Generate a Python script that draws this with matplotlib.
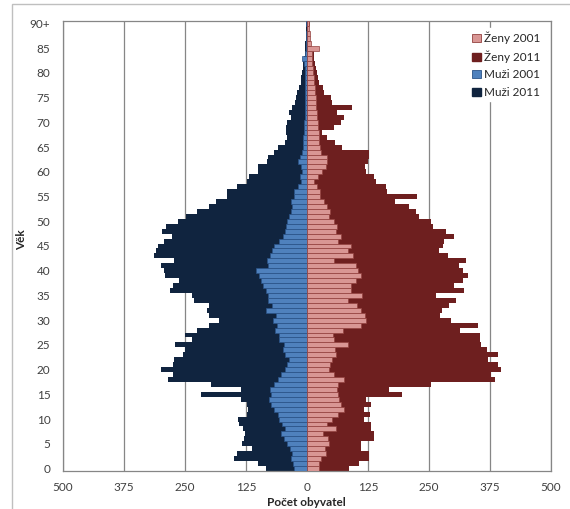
import matplotlib
matplotlib.use("Agg")
import matplotlib.pyplot as plt
import numpy as np
from matplotlib.patches import Rectangle, Patch

plt.rcParams['font.family'] = ['Lato', 'DejaVu Sans']

# age groups 0 .. 90+
vek = [str(a) for a in range(90)] + ['90+']

muzi_2011 = [84, 100, 150, 143, 113, 134, 130, 128, 131, 139,
             141, 123, 121, 123, 135, 217, 135, 197, 285, 275,
             300, 275, 272, 255, 250, 270, 235, 250, 225, 200,
             180, 200, 205, 200, 232, 235, 280, 275, 262, 290,
             293, 300, 272, 313, 310, 306, 293, 276, 298, 288,
             265, 248, 225, 200, 187, 164, 164, 143, 122, 118,
             101, 100, 81, 80, 67, 60, 45, 40, 43, 43,
             40, 33, 37, 30, 25, 23, 20, 16, 12, 12,
             10, 9, 8, 6, 5, 4, 4, 3, 2, 2, 3]

muzi_2001 = [27, 28, 32, 30, 35, 40, 47, 54, 45, 52,
             58, 60, 67, 74, 77, 74, 76, 67, 60, 54,
             45, 40, 36, 45, 50, 48, 58, 58, 66, 62,
             70, 64, 84, 72, 80, 80, 84, 90, 94, 98,
             104, 80, 82, 76, 72, 67, 57, 50, 46, 43,
             40, 37, 33, 30, 33, 26, 26, 19, 12, 15,
             10, 13, 19, 14, 10, 8, 9, 8, 7, 6,
             6, 5, 5, 5, 5, 5, 4, 4, 4, 4,
             5, 5, 6, 10, 4, 3, 3, 2, 2, 1, 2]

zeny_2011 = [86, 107, 128, 128, 110, 111, 137, 138, 131, 132,
             116, 130, 116, 131, 121, 194, 169, 255, 385, 377,
             397, 391, 371, 391, 368, 357, 355, 354, 314, 350,
             295, 273, 276, 290, 305, 264, 322, 302, 320, 329,
             320, 312, 326, 288, 270, 278, 281, 301, 285, 258,
             255, 230, 223, 210, 180, 225, 164, 162, 141, 137,
             121, 119, 124, 128, 128, 72, 58, 42, 30, 55,
             70, 75, 62, 92, 52, 50, 35, 32, 25, 22,
             20, 18, 16, 15, 14, 9, 6, 5, 5, 4, 6]

zeny_2001 = [25, 25, 29, 39, 36, 46, 44, 33, 59, 40,
             52, 63, 76, 70, 66, 64, 62, 64, 76, 56,
             46, 48, 52, 60, 58, 83, 56, 53, 74, 110,
             121, 118, 110, 103, 84, 112, 90, 90, 100, 110,
             105, 100, 56, 95, 85, 90, 63, 70, 59, 62,
             56, 46, 48, 42, 35, 27, 26, 20, 15, 22,
             30, 39, 42, 40, 28, 26, 25, 25, 24, 22,
             22, 20, 20, 19, 18, 18, 17, 16, 15, 14,
             13, 12, 11, 10, 10, 25, 8, 7, 6, 5, 4]

x_ticks = [-500, -375, -250, -125, 0, 125, 250, 375, 500]

c_m11 = '#10243f'
c_m01 = '#4f81bd'
c_m01_edge = '#2a5388'
c_z11 = '#6e1f1f'
c_z01 = '#d99694'
c_z01_edge = '#93413f'
grid_c = '#868686'
text_c = '#404040'

fig = plt.figure(figsize=(5.7, 5.09), dpi=100)
ax = fig.add_axes([63/570, 1 - 471/509, (551 - 63)/570, 450/509])

y = np.arange(len(vek))
ax.barh(y, -np.array(muzi_2011), height=1.0, color=c_m11, lw=0, zorder=2)
ax.barh(y, -np.array(muzi_2001), height=1.0, color=c_m01,
        edgecolor=c_m01_edge, lw=0.5, zorder=3)
ax.barh(y, zeny_2011, height=1.0, color=c_z11, lw=0, zorder=2)
ax.barh(y, zeny_2001, height=1.0, color=c_z01,
        edgecolor=c_z01_edge, lw=0.5, zorder=3)

ax.set_xlim(-500, 500)
ax.set_ylim(-0.5, len(vek) - 0.5)
ax.set_xticks(x_ticks)
ax.set_xticklabels([str(abs(t)) for t in x_ticks])
ax.set_yticks(y[::5])
ax.set_yticklabels(vek[::5])
ax.tick_params(axis='both', length=0, labelsize=8.5, colors=text_c)
ax.tick_params(axis='y', pad=9)
ax.tick_params(axis='x', pad=8)

ax.set_axisbelow(True)
ax.xaxis.grid(True, color=grid_c, lw=0.9)
for s in ax.spines.values():
    s.set_color(grid_c)
    s.set_linewidth(0.9)

fig.text(22/570, 1 - 240/509, 'Věk', rotation=90, fontsize=8.5,
         fontweight='bold', color='#262626', ha='center', va='center')
fig.text(306/570, 1 - 503/509, 'Počet obyvatel', fontsize=8.5,
         fontweight='bold', color='#262626', ha='center', va='center')

handles = [Patch(facecolor=c_z01, edgecolor=c_z01_edge, lw=0.6, label='Ženy 2001'),
           Patch(facecolor=c_z11, edgecolor=c_z11, label='Ženy 2011'),
           Patch(facecolor=c_m01, edgecolor=c_m01_edge, lw=0.6, label='Muži 2001'),
           Patch(facecolor=c_m11, edgecolor=c_m11, label='Muži 2011')]
leg = ax.legend(handles=handles, loc='upper right',
                bbox_to_anchor=(550/570, 1 - 22/509), bbox_transform=fig.transFigure,
                fontsize=8.5, handlelength=0.7, handleheight=0.7,
                handletextpad=0.3, labelspacing=0.55, borderpad=0.3,
                frameon=True, fancybox=False, framealpha=1)
leg.get_frame().set_edgecolor('white')
leg.get_frame().set_facecolor('white')
for t in leg.get_texts():
    t.set_color('#262626')

# outer chart frame
fig.add_artist(Rectangle((12/570, -0.1), 1.2, 1.1 - 4/509, transform=fig.transFigure,
                         fill=False, edgecolor='#bfbfbf', lw=1))

fig.savefig('out.png', dpi=100)
